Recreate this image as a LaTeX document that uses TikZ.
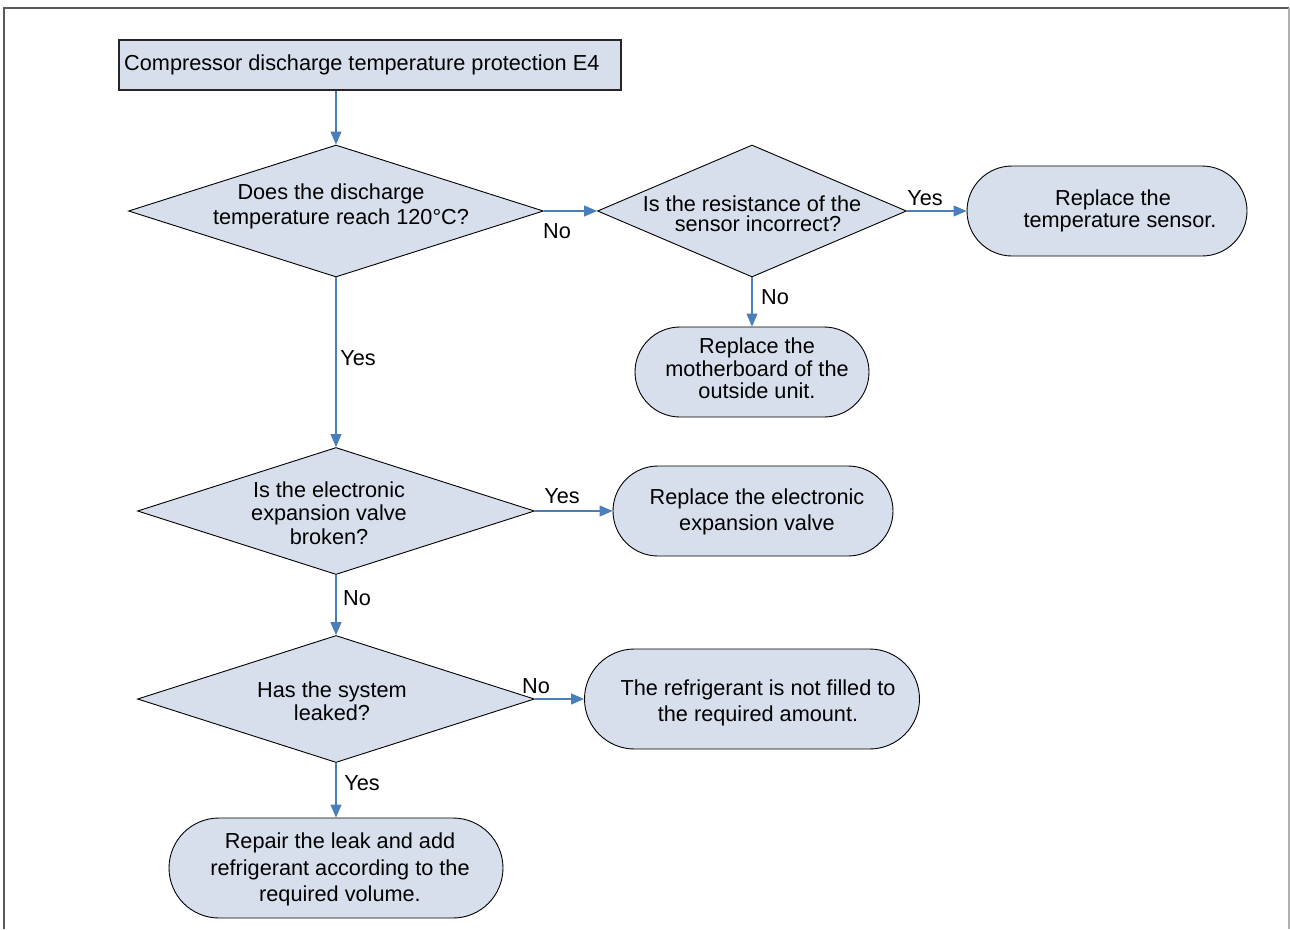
\documentclass[tikz,border=0pt]{standalone}
\usepackage{fontspec}
\setmainfont{Liberation Sans}
\usetikzlibrary{shapes.geometric,arrows.meta}
\definecolor{boxfill}{RGB}{214,223,235}
\definecolor{arrowblue}{RGB}{74,126,187}
\definecolor{framegray}{RGB}{90,90,90}
\definecolor{framelight}{RGB}{175,175,175}
\begin{document}
\begin{tikzpicture}[x=1pt,y=-1pt,
  every node/.style={font=\fontsize{21.7}{23.5}\selectfont},
  procbox/.style={rectangle, draw=black!85, fill=boxfill, line width=1.1pt, inner sep=0pt},
  decbox/.style={diamond, draw=black, fill=boxfill, line width=0.9pt, inner sep=0pt},
  termbox/.style={rectangle, draw=black, fill=boxfill, line width=0.9pt, inner sep=0pt},
  txt/.style={align=center, inner sep=0pt},
  flow/.style={draw=arrowblue, line width=1.1pt, -{Triangle[length=13pt,width=11pt]}},
  lbl/.style={inner sep=0pt}
]
\useasboundingbox (0,0) rectangle (1290,929);
% frame
\draw[framegray, line width=1.5pt] (4,929) -- (4,8) -- (1289,8);
\draw[framelight, line width=1.5pt] (1289,8) -- (1289,929);

% start
\node[procbox, minimum width=502pt, minimum height=50pt] (start) at (370,65) {};
\node[txt, anchor=west] (startt) at (124,65) {Compressor discharge temperature protection E4};

% decisions
\node[decbox, minimum width=415pt, minimum height=132pt] (d1) at (336,211) {};
\node[txt, font=\fontsize{21.7}{24.5}\selectfont] (d1t) at (336,206.5) {Does the discharge\hspace*{10pt}\\\hspace*{10pt}temperature reach 120°C?};

\node[decbox, minimum width=309pt, minimum height=132pt] (d2) at (752,211) {};
\node[txt, font=\fontsize{21.7}{20}\selectfont] (d2t) at (752,214) {Is the resistance of the\\\hspace*{12pt}sensor incorrect?};

\node[decbox, minimum width=397pt, minimum height=127pt] (d3) at (336,511) {};
\node[txt] (d3t) at (329,513) {Is the electronic\\expansion valve\\broken?};

\node[decbox, minimum width=397pt, minimum height=127pt] (d4) at (336,699) {};
\node[txt] (d4t) at (332,701) {Has the system\\leaked?};

% terminals
\node[termbox, minimum width=280pt, minimum height=90pt, rounded corners=45pt] (t1) at (1107,211) {};
\node[txt, font=\fontsize{21.7}{22}\selectfont] (t1t) at (1113,211) {Replace the\\\hspace*{14pt}temperature sensor.};

\node[termbox, minimum width=234pt, minimum height=90pt, rounded corners=45pt] (t2) at (752,372) {};
\node[txt, font=\fontsize{21.7}{22.5}\selectfont] (t2t) at (757,368.5) {Replace the\\motherboard of the\\outside unit.};

\node[termbox, minimum width=280pt, minimum height=90pt, rounded corners=45pt] (t3) at (753,511) {};
\node[txt, font=\fontsize{21.7}{26}\selectfont] (t3t) at (757,512) {Replace the electronic\\expansion valve};

\node[termbox, minimum width=335pt, minimum height=100pt, rounded corners=50pt] (t4) at (752,699) {};
\node[txt, font=\fontsize{21.7}{26}\selectfont] (t4t) at (758,703) {The refrigerant is not filled to\\the required amount.};

\node[termbox, minimum width=334pt, minimum height=100pt, rounded corners=50pt] (t5) at (336,868) {};
\node[txt, font=\fontsize{21.7}{26.5}\selectfont] (t5t) at (340,869.5) {Repair the leak and add\\refrigerant according to the\\required volume.};

% connectors
\draw[flow] (start.south -| d1.north) -- (d1.north);
\draw[flow] (d1.east) -- (d2.west);
\draw[flow] (d2.east) -- (t1.west);
\draw[flow] (d2.south) -- (d2.south |- t2.north);
\draw[flow] (d1.south) -- (d3.north);
\draw[flow] (d3.east) -- (t3.west);
\draw[flow] (d3.south) -- (d4.north);
\draw[flow] (d4.east) -- (t4.west);
\draw[flow] (d4.south) -- (t5.north);

% labels
\node[lbl] (l1) at (557,231) {No};
\node[lbl] (l2) at (925,198) {Yes};
\node[lbl] (l3) at (775,297) {No};
\node[lbl] (l4) at (358,358) {Yes};
\node[lbl] (l5) at (562,496) {Yes};
\node[lbl] (l6) at (357,598) {No};
\node[lbl] (l7) at (536,686) {No};
\node[lbl] (l8) at (362,783) {Yes};
\end{tikzpicture}
\end{document}
